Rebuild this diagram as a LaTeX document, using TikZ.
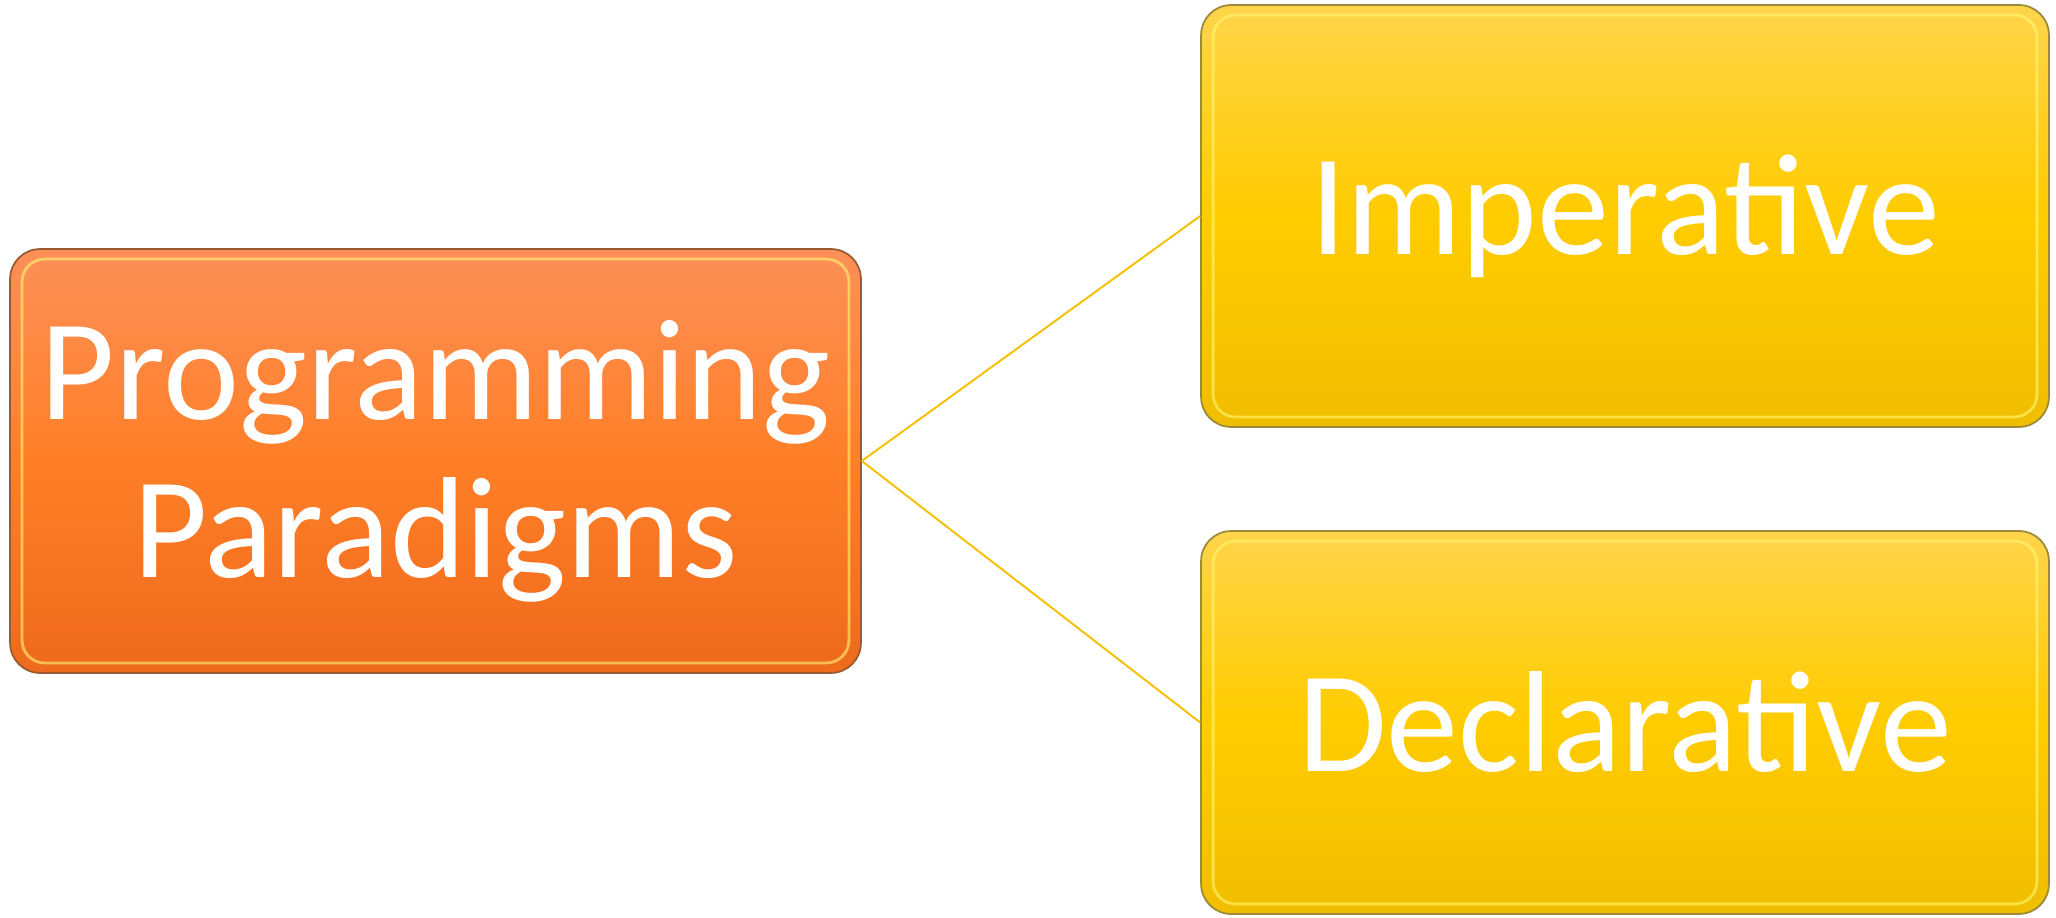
\documentclass[tikz,border=0pt]{standalone}
\usepackage{fontspec}
\setmainfont{Carlito}

\definecolor{rootTop}{HTML}{FC9058}
\definecolor{rootMid}{HTML}{FF7F27}
\definecolor{rootBot}{HTML}{EE6A1C}
\definecolor{rootEdge}{HTML}{9A5A32}
\definecolor{branchTop}{HTML}{FFD44A}
\definecolor{branchMid}{HTML}{FFCC00}
\definecolor{branchBot}{HTML}{F0BE00}
\definecolor{branchEdge}{HTML}{9C8A3A}
\definecolor{linkGold}{HTML}{F5C000}

\begin{document}
\begin{tikzpicture}[x=0.02cm,y=-0.02cm,
    paradigm/.style ={rounded corners=0.6cm, line width=1pt, text=white,
      align=center, inner sep=0pt, font=\fontsize{82}{90}\selectfont,
      path picture={\draw[white!45!yellow, line width=1.6pt, opacity=0.6, rounded corners=0.45cm]
        ([shift={(0.24cm,-0.2cm)}]path picture bounding box.north west) rectangle
        ([shift={(-0.24cm,0.2cm)}]path picture bounding box.south east);}},
    root/.style ={paradigm, draw=rootEdge, top color=rootTop, bottom color=rootBot,
      middle color=rootMid, minimum width=17.02cm, minimum height=8.48cm},
    branch/.style ={paradigm, draw=branchEdge, top color=branchTop, bottom color=branchBot,
      middle color=branchMid, minimum width=16.96cm},
    link/.style ={draw=linkGold, line width=1.1pt}]
   \useasboundingbox (0,0) rectangle (2056,918);

   \node[root] (prog)  at (435.5,461)  {Programming\\Paradigms};
   \node[branch, minimum height=8.44cm] (imp)  at (1625,216)  {Imperative};
   \node[branch, minimum height=7.66cm] (decl) at (1625,722.5) {Declarative};

   \draw[link] (prog.east) to (imp.west);
   \draw[link] (prog.east) to (decl.west);
 \end{tikzpicture}
\end{document}
